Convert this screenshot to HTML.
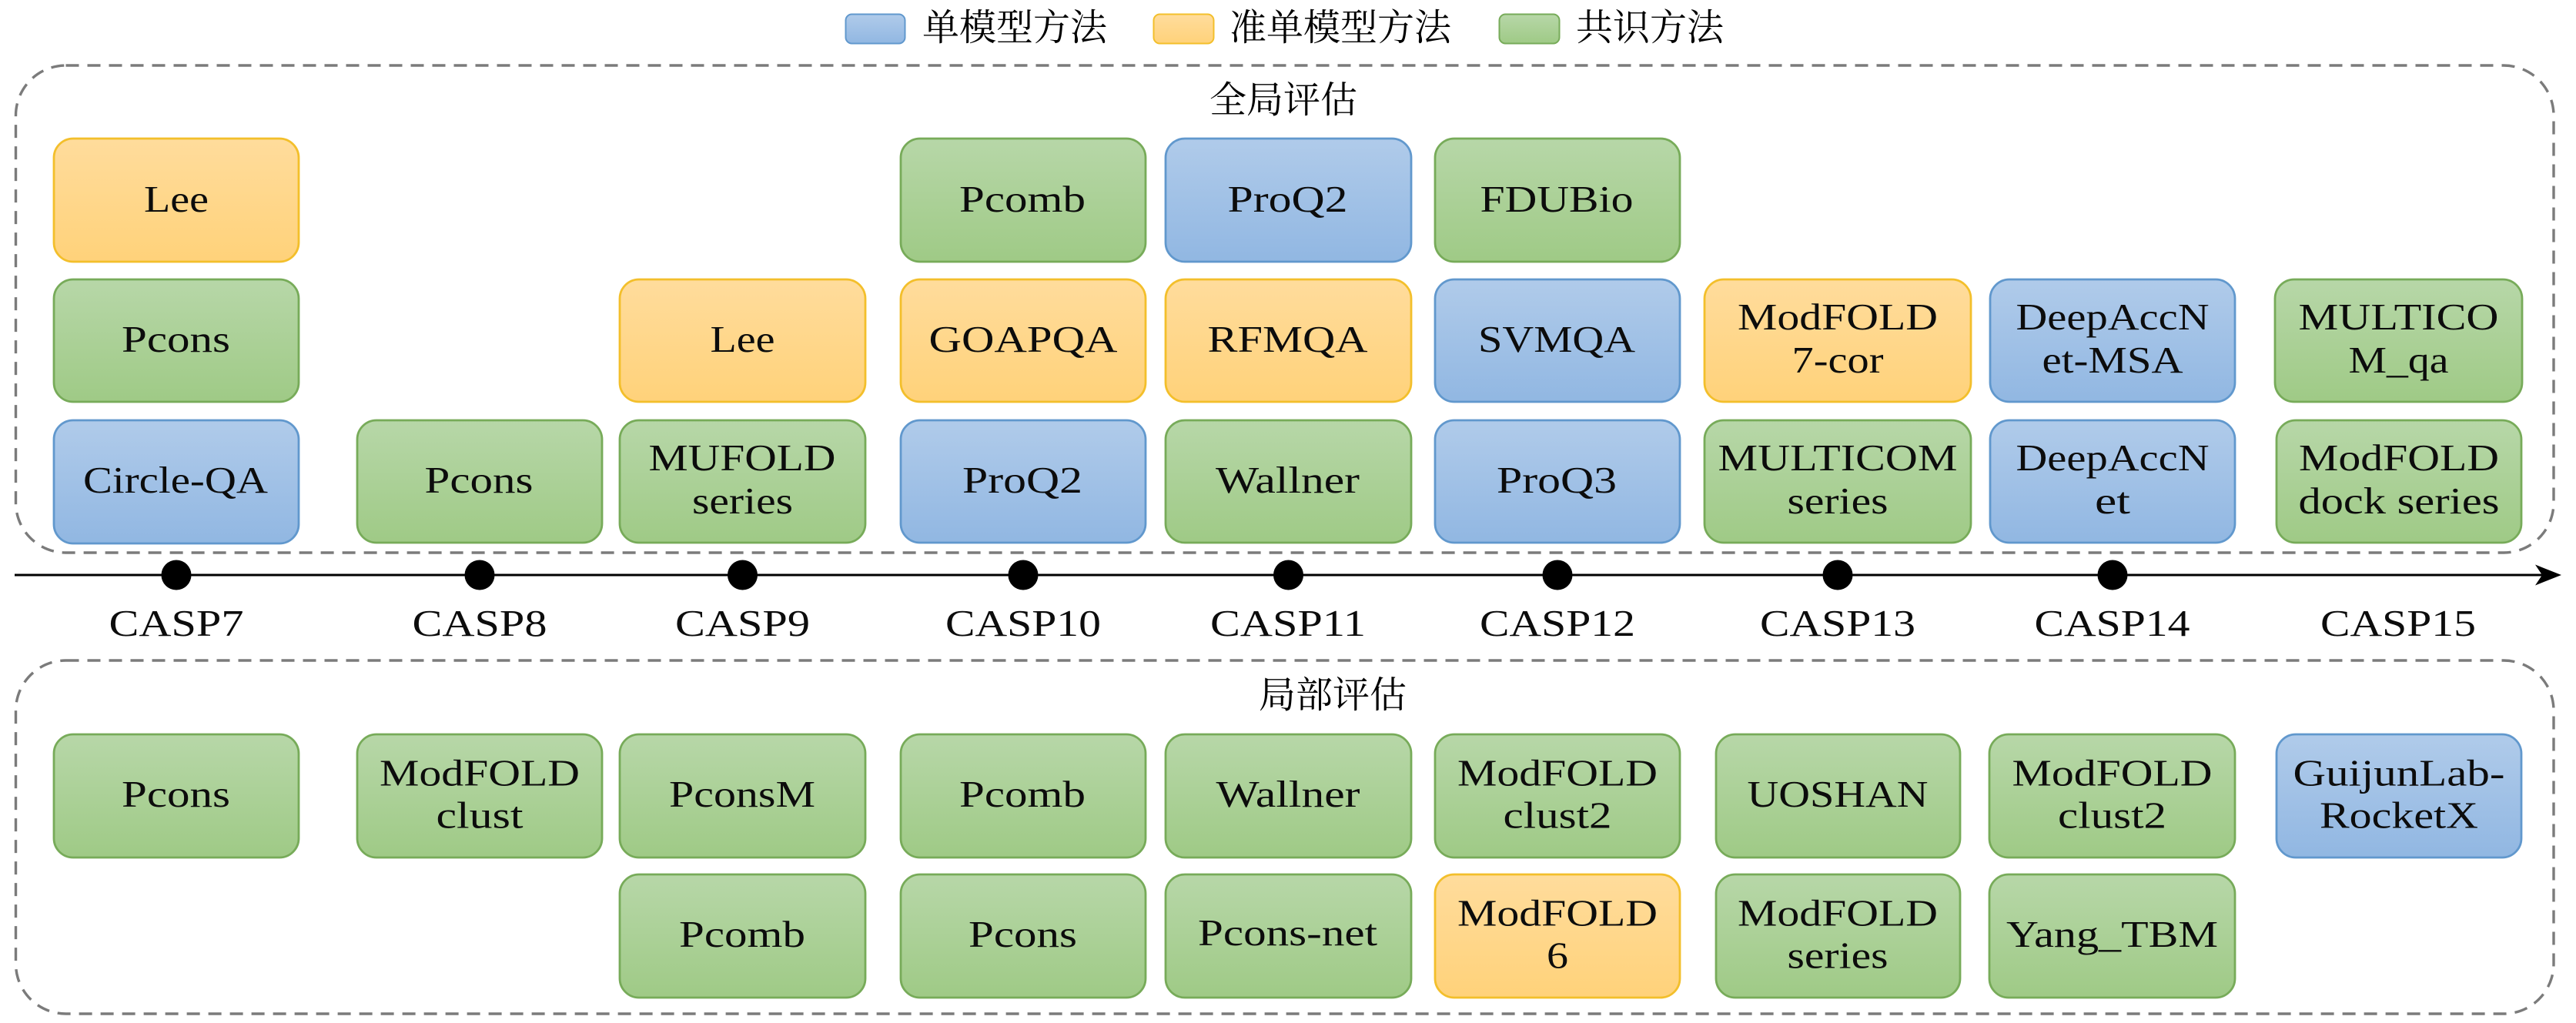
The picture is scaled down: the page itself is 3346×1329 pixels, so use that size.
<!DOCTYPE html>
<html lang="zh"><head><meta charset="utf-8"><title>CASP</title>
<style>
html,body{margin:0;padding:0;background:#fff}
svg{display:block}
text{fill:#000}
.t{font-family:"Liberation Serif",serif;font-size:49px;text-anchor:middle;fill:#0c0c0c}
.c{font-family:"Liberation Serif","Noto Serif CJK SC",serif;font-size:48px}
.g{fill:url(#gg);stroke:#77ab59;stroke-width:2.8}
.o{fill:url(#go);stroke:#f3bf2b;stroke-width:2.8}
.b{fill:url(#gb);stroke:#6198cd;stroke-width:2.8}
.p{fill:none;stroke:#7b7b7b;stroke-width:3.4;stroke-dasharray:17 11}
</style></head><body>
<svg xmlns="http://www.w3.org/2000/svg" width="3346" height="1329" viewBox="0 0 3346 1329">
<defs>
<linearGradient id="gg" x1="0" y1="0" x2="0" y2="1"><stop offset="0" stop-color="#b7d7a8"/><stop offset="1" stop-color="#9fca86"/></linearGradient>
<linearGradient id="go" x1="0" y1="0" x2="0" y2="1"><stop offset="0" stop-color="#ffdc9c"/><stop offset="1" stop-color="#ffd27a"/></linearGradient>
<linearGradient id="gb" x1="0" y1="0" x2="0" y2="1"><stop offset="0" stop-color="#b0cbea"/><stop offset="1" stop-color="#91b7e2"/></linearGradient>
</defs>
<rect width="3346" height="1329" fill="#fff"/>

<!-- legend -->
<rect class="b" x="1098.5" y="18.5" width="77" height="38" rx="8" style="stroke-width:2"/>
<text class="c" x="1198" y="52">单模型方法</text>
<rect class="o" x="1498.5" y="18.5" width="78" height="38" rx="8" style="stroke-width:2"/>
<text class="c" x="1597" y="52">准单模型方法</text>
<rect class="g" x="1947.5" y="18.5" width="78" height="38" rx="8" style="stroke-width:2"/>
<text class="c" x="2047" y="52">共识方法</text>

<!-- panels -->
<rect class="p" x="20.5" y="85" width="3296.5" height="633" rx="65"/>
<rect class="p" x="20.5" y="858" width="3296.5" height="459" rx="65"/>
<text class="c" x="1571" y="146">全局评估</text>
<text class="c" x="1635" y="919">局部评估</text>

<!-- timeline -->
<line x1="19" y1="747" x2="3305" y2="747" stroke="#000" stroke-width="3"/>
<polygon points="3327,747 3293,733.5 3302,747 3293,760.5" fill="#000"/>
<g fill="#000">
<circle cx="229" cy="747" r="19.5"/><circle cx="623" cy="747" r="19.5"/><circle cx="964.5" cy="747" r="19.5"/>
<circle cx="1329" cy="747" r="19.5"/><circle cx="1673.5" cy="747" r="19.5"/><circle cx="2023" cy="747" r="19.5"/>
<circle cx="2387" cy="747" r="19.5"/><circle cx="2744" cy="747" r="19.5"/>
</g>
<text class="t" x="229" y="826" textLength="175" lengthAdjust="spacingAndGlyphs">CASP7</text>
<text class="t" x="623" y="826" textLength="175" lengthAdjust="spacingAndGlyphs">CASP8</text>
<text class="t" x="964.5" y="826" textLength="175" lengthAdjust="spacingAndGlyphs">CASP9</text>
<text class="t" x="1329" y="826" textLength="202" lengthAdjust="spacingAndGlyphs">CASP10</text>
<text class="t" x="1673" y="826" textLength="202" lengthAdjust="spacingAndGlyphs">CASP11</text>
<text class="t" x="2023" y="826" textLength="202" lengthAdjust="spacingAndGlyphs">CASP12</text>
<text class="t" x="2387" y="826" textLength="202" lengthAdjust="spacingAndGlyphs">CASP13</text>
<text class="t" x="2743.5" y="826" textLength="202" lengthAdjust="spacingAndGlyphs">CASP14</text>
<text class="t" x="3115" y="826" textLength="202" lengthAdjust="spacingAndGlyphs">CASP15</text>

<!-- CASP7 -->
<rect class="o" x="70" y="180" width="318" height="160" rx="25"/>
<text class="t" x="229" y="275" textLength="84" lengthAdjust="spacingAndGlyphs">Lee</text>
<rect class="g" x="70" y="363" width="318" height="159" rx="25"/>
<text class="t" x="228.5" y="457" textLength="141" lengthAdjust="spacingAndGlyphs">Pcons</text>
<rect class="b" x="70" y="546" width="318" height="160" rx="25"/>
<text class="t" x="228" y="640" textLength="240" lengthAdjust="spacingAndGlyphs">Circle-QA</text>
<!-- CASP8 -->
<rect class="g" x="464" y="546" width="318" height="159" rx="25"/>
<text class="t" x="622" y="640" textLength="141" lengthAdjust="spacingAndGlyphs">Pcons</text>
<!-- CASP9 -->
<rect class="o" x="805" y="363" width="319" height="159" rx="25"/>
<text class="t" x="964.5" y="457" textLength="84" lengthAdjust="spacingAndGlyphs">Lee</text>
<rect class="g" x="805" y="546" width="319" height="159" rx="25"/>
<text class="t" x="964" y="611" textLength="243" lengthAdjust="spacingAndGlyphs">MUFOLD</text>
<text class="t" x="964.5" y="667" textLength="131" lengthAdjust="spacingAndGlyphs">series</text>
<!-- CASP10 -->
<rect class="g" x="1170" y="180" width="318" height="160" rx="25"/>
<text class="t" x="1328" y="275" textLength="164" lengthAdjust="spacingAndGlyphs">Pcomb</text>
<rect class="o" x="1170" y="363" width="318" height="159" rx="25"/>
<text class="t" x="1329" y="457" textLength="245" lengthAdjust="spacingAndGlyphs">GOAPQA</text>
<rect class="b" x="1170" y="546" width="318" height="159" rx="25"/>
<text class="t" x="1328" y="640" textLength="156" lengthAdjust="spacingAndGlyphs">ProQ2</text>
<!-- CASP11 -->
<rect class="b" x="1514" y="180" width="319" height="160" rx="25"/>
<text class="t" x="1672.5" y="275" textLength="156" lengthAdjust="spacingAndGlyphs">ProQ2</text>
<rect class="o" x="1514" y="363" width="319" height="159" rx="25"/>
<text class="t" x="1672.5" y="457" textLength="208" lengthAdjust="spacingAndGlyphs">RFMQA</text>
<rect class="g" x="1514" y="546" width="319" height="159" rx="25"/>
<text class="t" x="1672.5" y="640" textLength="187" lengthAdjust="spacingAndGlyphs">Wallner</text>
<!-- CASP12 -->
<rect class="g" x="1864" y="180" width="318" height="160" rx="25"/>
<text class="t" x="2022" y="275" textLength="199" lengthAdjust="spacingAndGlyphs">FDUBio</text>
<rect class="b" x="1864" y="363" width="318" height="159" rx="25"/>
<text class="t" x="2022" y="457" textLength="204" lengthAdjust="spacingAndGlyphs">SVMQA</text>
<rect class="b" x="1864" y="546" width="318" height="159" rx="25"/>
<text class="t" x="2022" y="640" textLength="156" lengthAdjust="spacingAndGlyphs">ProQ3</text>
<!-- CASP13 -->
<rect class="o" x="2214" y="363" width="346" height="159" rx="25"/>
<text class="t" x="2387" y="428" textLength="260" lengthAdjust="spacingAndGlyphs">ModFOLD</text>
<text class="t" x="2387" y="484" textLength="119" lengthAdjust="spacingAndGlyphs">7-cor</text>
<rect class="g" x="2214" y="546" width="346" height="159" rx="25"/>
<text class="t" x="2387" y="611" textLength="311" lengthAdjust="spacingAndGlyphs">MULTICOM</text>
<text class="t" x="2387" y="667" textLength="131" lengthAdjust="spacingAndGlyphs">series</text>
<!-- CASP14 -->
<rect class="b" x="2585" y="363" width="318" height="159" rx="25"/>
<text class="t" x="2744" y="428" textLength="251" lengthAdjust="spacingAndGlyphs">DeepAccN</text>
<text class="t" x="2744" y="484" textLength="183" lengthAdjust="spacingAndGlyphs">et-MSA</text>
<rect class="b" x="2585" y="546" width="318" height="159" rx="25"/>
<text class="t" x="2744" y="611" textLength="251" lengthAdjust="spacingAndGlyphs">DeepAccN</text>
<text class="t" x="2744" y="667" textLength="46" lengthAdjust="spacingAndGlyphs">et</text>
<!-- CASP15 -->
<rect class="g" x="2955" y="363" width="321" height="159" rx="25"/>
<text class="t" x="3115.5" y="428" textLength="260" lengthAdjust="spacingAndGlyphs">MULTICO</text>
<text class="t" x="3115.5" y="484" textLength="130" lengthAdjust="spacingAndGlyphs">M_qa</text>
<rect class="g" x="2957" y="546" width="318" height="159" rx="25"/>
<text class="t" x="3116" y="611" textLength="260" lengthAdjust="spacingAndGlyphs">ModFOLD</text>
<text class="t" x="3116" y="667" textLength="261" lengthAdjust="spacingAndGlyphs">dock series</text>

<!-- lower -->
<rect class="g" x="70" y="954" width="318" height="160" rx="25"/>
<text class="t" x="228.5" y="1048" textLength="141" lengthAdjust="spacingAndGlyphs">Pcons</text>
<rect class="g" x="464" y="954" width="318" height="160" rx="25"/>
<text class="t" x="623" y="1020.5" textLength="260" lengthAdjust="spacingAndGlyphs">ModFOLD</text>
<text class="t" x="623" y="1075.5" textLength="113" lengthAdjust="spacingAndGlyphs">clust</text>
<rect class="g" x="805" y="954" width="319" height="160" rx="25"/>
<text class="t" x="964" y="1048" textLength="190" lengthAdjust="spacingAndGlyphs">PconsM</text>
<rect class="g" x="805" y="1136" width="319" height="160" rx="25"/>
<text class="t" x="964" y="1230" textLength="164" lengthAdjust="spacingAndGlyphs">Pcomb</text>
<rect class="g" x="1170" y="954" width="318" height="160" rx="25"/>
<text class="t" x="1328" y="1048" textLength="164" lengthAdjust="spacingAndGlyphs">Pcomb</text>
<rect class="g" x="1170" y="1136" width="318" height="160" rx="25"/>
<text class="t" x="1328.5" y="1230" textLength="141" lengthAdjust="spacingAndGlyphs">Pcons</text>
<rect class="g" x="1514" y="954" width="319" height="160" rx="25"/>
<text class="t" x="1673" y="1048" textLength="187" lengthAdjust="spacingAndGlyphs">Wallner</text>
<rect class="g" x="1514" y="1136" width="319" height="160" rx="25"/>
<text class="t" x="1672.5" y="1228" textLength="233" lengthAdjust="spacingAndGlyphs">Pcons-net</text>
<rect class="g" x="1864" y="954" width="318" height="160" rx="25"/>
<text class="t" x="2023" y="1020.5" textLength="260" lengthAdjust="spacingAndGlyphs">ModFOLD</text>
<text class="t" x="2023" y="1075.5" textLength="141" lengthAdjust="spacingAndGlyphs">clust2</text>
<rect class="o" x="1864" y="1136" width="318" height="160" rx="25"/>
<text class="t" x="2023" y="1202.5" textLength="260" lengthAdjust="spacingAndGlyphs">ModFOLD</text>
<text class="t" x="2023" y="1257.5" textLength="28" lengthAdjust="spacingAndGlyphs">6</text>
<rect class="g" x="2229" y="954" width="317" height="160" rx="25"/>
<text class="t" x="2387" y="1048" textLength="235" lengthAdjust="spacingAndGlyphs">UOSHAN</text>
<rect class="g" x="2229" y="1136" width="317" height="160" rx="25"/>
<text class="t" x="2387" y="1202.5" textLength="260" lengthAdjust="spacingAndGlyphs">ModFOLD</text>
<text class="t" x="2387" y="1257.5" textLength="131" lengthAdjust="spacingAndGlyphs">series</text>
<rect class="g" x="2584" y="954" width="319" height="160" rx="25"/>
<text class="t" x="2743.5" y="1020.5" textLength="260" lengthAdjust="spacingAndGlyphs">ModFOLD</text>
<text class="t" x="2743.5" y="1075.5" textLength="141" lengthAdjust="spacingAndGlyphs">clust2</text>
<rect class="g" x="2584" y="1136" width="319" height="160" rx="25"/>
<text class="t" x="2743.5" y="1230" textLength="275" lengthAdjust="spacingAndGlyphs">Yang_TBM</text>
<rect class="b" x="2957" y="954" width="318" height="160" rx="25"/>
<text class="t" x="3116" y="1020.5" textLength="275" lengthAdjust="spacingAndGlyphs">GuijunLab-</text>
<text class="t" x="3116" y="1075.5" textLength="206" lengthAdjust="spacingAndGlyphs">RocketX</text>
</svg>
</body></html>
